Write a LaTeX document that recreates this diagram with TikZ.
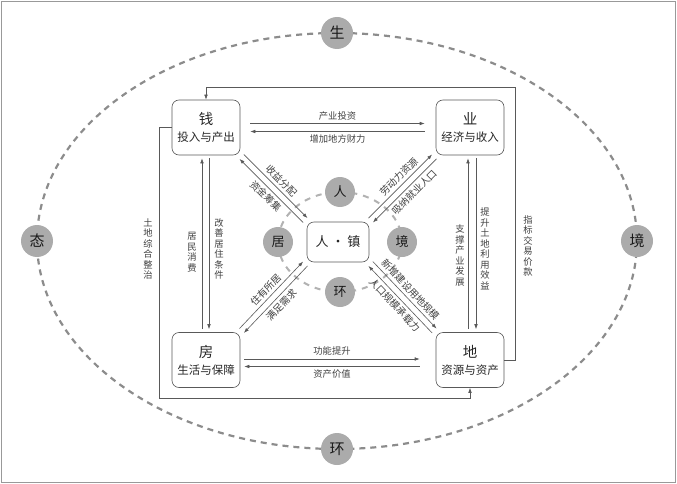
\documentclass[tikz,border=0pt]{standalone}
\usepackage{fontspec}
\newfontfamily\cjk{Noto Sans CJK SC}
\usetikzlibrary{arrows.meta}

\tikzset{
  box/.style={draw=black!65,line width=.6pt,rounded corners=7pt,minimum width=68pt,minimum height=55pt,align=center,
    text=black!85,font=\cjk\fontsize{11.5}{14}\selectfont},
  lbl/.style={font=\cjk\fontsize{9.3}{10.5}\selectfont,text=black!75,inner sep=2pt},
  dlbl/.style={font=\cjk\fontsize{9.8}{11}\selectfont,text=black!75,inner sep=3pt},
  vlbl/.style={lbl,align=center},
  ring/.style={circle,fill=black!33,minimum size=30pt,inner sep=0pt,text=black!90,font=\cjk\fontsize{13}{13}\selectfont},
  link/.style={draw=black!65,line width=.6pt},
}

\begin{document}
\begin{tikzpicture}[x=1pt,y=-1pt,>={Latex[length=5pt,width=3.6pt]},font=\cjk]
\useasboundingbox (0,0) rectangle (677,484);
\draw[black!40,line width=1.2pt] (1.5,1.5) rectangle (675.5,482.5);

\draw[black!45,line width=2.2pt,dash pattern=on 6pt off 5pt] (337,241) ellipse [x radius=300,y radius=208];
\draw[black!30,line width=2pt,dash pattern=on 6pt off 6pt] (340,242) ellipse [x radius=62,y radius=50];

\foreach \t/\x/\y/\n in {生/337/33/sheng,环/337/449/huan,态/37/241/tai,境/637/241/jing}
  \node[ring,minimum size=32pt,font=\cjk\fontsize{15}{15}\selectfont] (\n) at (\x,\y) {\t};
\foreach \t/\x/\y/\n in {人/340/192/ren,居/278/242/ju,境/402/242/jing2,环/340/292/huan2}
  \node[ring] (\n) at (\x,\y) {\t};

\node[box] (qian) at (206,127.5) {{\fontsize{14.5}{16}\selectfont 钱}\\[3pt]投入与产出};
\node[box] (ye) at (470,127.5) {{\fontsize{14.5}{16}\selectfont 业}\\[3pt]经济与收入};
\node[box] (fang) at (206,360) {{\fontsize{14.5}{16}\selectfont 房}\\[3pt]生活与保障};
\node[box] (di) at (470,360) {{\fontsize{14.5}{16}\selectfont 地}\\[3pt]资源与资产};
\node[box,minimum width=62pt,minimum height=40pt,font=\cjk\fontsize{13}{15}\selectfont] (rz) at (338,242) {人 · 镇};

\draw[link,->] ([xshift=10pt,yshift=4pt]qian.east) -- node[lbl,above=1pt] (touzi) {产业投资} ([xshift=-11pt,yshift=4pt]ye.west);
\draw[link,<-] ([xshift=10pt,yshift=-4pt]qian.east) -- node[lbl,below=1pt] (caili) {增加地方财力} ([xshift=-11pt,yshift=-4pt]ye.west);
\draw[link,->] ([xshift=4pt,yshift=1pt]fang.east) -- node[lbl,above=1pt] (gongneng) {功能提升} ([xshift=-16pt,yshift=1pt]di.west);
\draw[link,<-] ([xshift=4pt,yshift=-6.5pt]fang.east) -- node[lbl,below=1pt] (jiazhi) {资产价值} ([xshift=-16pt,yshift=-6.5pt]di.west);

\draw[link,->] ([xshift=-4pt,yshift=3pt]fang.north) -- node[vlbl,left=3pt,pos=.45] (xiaofei) {居\\民\\消\\费} ([xshift=-4pt,yshift=-3pt]qian.south);
\draw[link,->] ([xshift=3pt,yshift=-3pt]qian.south) -- node[vlbl,right=3pt,pos=.53] (gaishan) {改\\善\\居\\住\\条\\件} ([xshift=3pt,yshift=3pt]fang.north);
\draw[link,->] ([xshift=-2pt,yshift=3pt]di.north) -- node[vlbl,left=1pt,pos=.43] (zhicheng) {支\\撑\\产\\业\\发\\展} ([xshift=-2pt,yshift=-3pt]ye.south);
\draw[link,->] ([xshift=6pt,yshift=-3pt]ye.south) -- node[vlbl,right=2pt,pos=.53] (tisheng) {提\\升\\土\\地\\利\\用\\效\\益} ([xshift=6pt,yshift=3pt]di.north);

\draw[link,->,shorten <=2pt,shorten >=2pt] ([shift={(2.2pt,2.2pt)}]qian.south east) -- node[dlbl,sloped,above] (fenpei) {收益分配} ([shift={(2.2pt,2.2pt)}]rz.north west);
\draw[link,<-,shorten <=2pt,shorten >=2pt] ([shift={(-2.2pt,-2.2pt)}]qian.south east) -- node[dlbl,sloped,below] (chouji) {资金筹集} ([shift={(-2.2pt,-2.2pt)}]rz.north west);
\draw[link,->,shorten <=2pt,shorten >=2pt] ([shift={(-2.2pt,2.2pt)}]rz.north east) -- node[dlbl,sloped,above,pos=.56] (laodong) {劳动力资源} ([shift={(-2.2pt,2.2pt)}]ye.south west);
\draw[link,<-,shorten <=2pt,shorten >=2pt] ([shift={(2.2pt,-2.2pt)}]rz.north east) -- node[dlbl,sloped,below,pos=.56] (xina) {吸纳就业人口} ([shift={(2.2pt,-2.2pt)}]ye.south west);
\draw[link,->,shorten <=2pt,shorten >=2pt] ([shift={(-2.2pt,2.2pt)}]fang.north east) -- node[dlbl,sloped,above] (zhuyou) {住有所居} ([shift={(-2.2pt,2.2pt)}]rz.south west);
\draw[link,<-,shorten <=2pt,shorten >=2pt] ([shift={(2.2pt,-2.2pt)}]fang.north east) -- node[dlbl,sloped,below] (manzu) {满足需求} ([shift={(2.2pt,-2.2pt)}]rz.south west);
\draw[link,->,shorten <=2pt,shorten >=2pt] ([shift={(2.2pt,2.2pt)}]rz.south east) -- node[dlbl,sloped,above] (xinzeng) {新增建设用地规模} ([shift={(2.2pt,2.2pt)}]di.north west);
\draw[link,<-,shorten <=2pt,shorten >=2pt] ([shift={(-2.2pt,-2.2pt)}]rz.south east) -- node[dlbl,sloped,below] (chengzai) {人口规模承载力} ([shift={(-2.2pt,-2.2pt)}]di.north west);

\coordinate (tr) at (515,87);
\coordinate (bl) at (159,398);
\draw[link,->] (di.east) -| (tr) -| (qian.north);
\draw[link,->] (qian.west) -| (bl) -| (di.south);
\node[vlbl] (zhibiao) at (528,246) {指\\标\\交\\易\\价\\款};
\node[vlbl] (zhengzhi) at (148,249) {土\\地\\综\\合\\整\\治};
\end{tikzpicture}
\end{document}
